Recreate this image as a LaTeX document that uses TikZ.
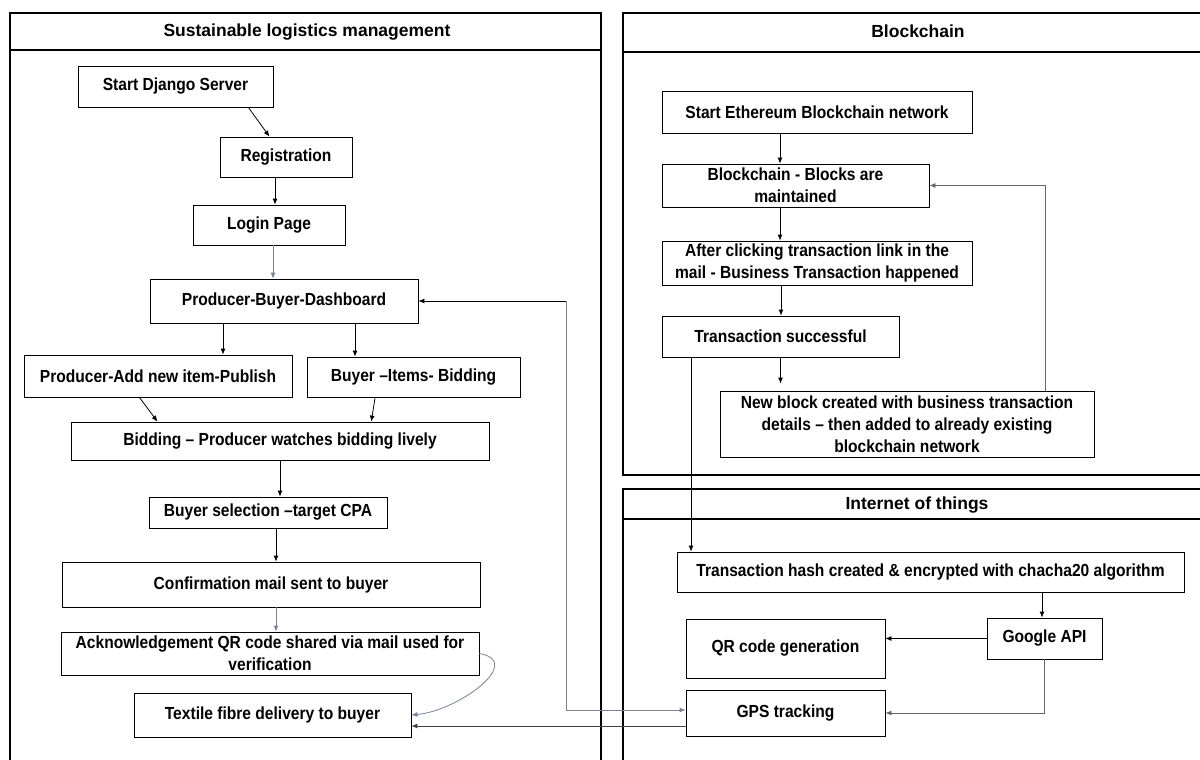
\documentclass[tikz,border=0pt]{standalone}
\usepackage{fontspec}
\setmainfont{Liberation Sans}[FakeStretch=0.89]
\newfontfamily\fonttitolo{Liberation Sans}
\usetikzlibrary{arrows.meta}

\definecolor{grigioblu}{RGB}{120,130,152}
\newcommand{\testo}{\fontsize{17.5}{22}\selectfont\bfseries}

\tikzset{
  scatola/.style={draw, line width=0.8pt, align=center, inner sep=2pt, font=\testo},
  titolo/.style={font=\fonttitolo\fontsize{17.5}{22}\selectfont\bfseries},
  pannello/.style={line width=2.6pt},
  freccia/.style={-{Latex[length=6pt,width=5pt]}, line width=0.8pt},
  grigia/.style={freccia, draw=grigioblu}
}

\begin{document}
\begin{tikzpicture}[x=1pt, y=-1pt]

        \clip (0,0) rectangle (1200,760);

        % Pannelli
        \draw[pannello] (10,13) rectangle (601,775);
        \draw[pannello] (10,50) -- (601,50);
        \draw[pannello] (623,13) rectangle (1215,475);
        \draw[pannello] (623,52) -- (1215,52);
        \draw[pannello] (623,489) rectangle (1215,775);
        \draw[pannello] (623,519) -- (1215,519);

        \node[titolo] (tlog) at (307,32) {Sustainable logistics management};
        \node[titolo] (tbc) at (918,31) {Blockchain};
        \node[titolo] (tiot) at (917,505) {Internet of things};

        % Logistica
        \node[scatola, minimum width=195, minimum height=41] (start) at (175.5,86.5) {Start Django Server};
        \node[scatola, minimum width=132, minimum height=40] (reg) at (286,157) {Registration};
        \node[scatola, minimum width=152, minimum height=40] (login) at (269,225) {Login Page};
        \node[scatola, minimum width=268, minimum height=44] (dash) at (284,301) {Producer-Buyer-Dashboard};
        \node[scatola, minimum width=268, minimum height=42] (prodadd) at (158,376) {Producer-Add new item-Publish};
        \node[scatola, minimum width=213, minimum height=40] (buyer) at (413.5,377) {Buyer –Items- Bidding};
        \node[scatola, minimum width=418, minimum height=38] (bidding) at (280,441) {Bidding – Producer watches bidding lively};
        \node[scatola, minimum width=238, minimum height=31] (buysel) at (268,512.5) {Buyer selection –target CPA};
        \node[scatola, minimum width=418, minimum height=45] (confirm) at (271,584.5) {Confirmation mail sent to buyer};
        \node[scatola, minimum width=418, minimum height=43] (ack) at (270,653.5) {Acknowledgement QR code shared via mail used for\\verification};
        \node[scatola, minimum width=277, minimum height=44] (textile) at (272.5,715) {Textile fibre delivery to buyer};

        % Blockchain
        \node[scatola, minimum width=310, minimum height=42] (eth) at (817,112) {Start Ethereum Blockchain network};
        \node[scatola, minimum width=267, minimum height=43] (blocks) at (795.5,185.5) {Blockchain - Blocks are\\maintained};
        \node[scatola, minimum width=310, minimum height=44] (after) at (817,263) {After clicking transaction link in the\\mail - Business Transaction happened};
        \node[scatola, minimum width=237, minimum height=41] (success) at (780.5,336.5) {Transaction successful};
        \node[scatola, minimum width=374, minimum height=66] (newblock) at (907,424) {New block created with business transaction\\details – then added to already existing\\blockchain network};

        % Internet of things
        \node[scatola, minimum width=507, minimum height=40] (hash) at (930.5,572) {Transaction hash created \& encrypted with chacha20 algorithm};
        \node[scatola, minimum width=115, minimum height=41] (google) at (1044.5,638.5) {Google API};
        \node[scatola, minimum width=199, minimum height=59] (qr) at (785.5,648.5) {QR code generation};
        \node[scatola, minimum width=199, minimum height=46] (gps) at (785.5,713) {GPS tracking};

        \coordinate (gomito) at (566,301);

        % Frecce logistica
        \draw[freccia] (start.-16) -- (reg.129);
        \draw[freccia] ([xshift=-11pt]reg.south) -- ([xshift=-11pt]reg.south |- login.north);
        \draw[grigia] ([xshift=4pt]login.south) -- ([xshift=4pt]login.south |- dash.north);
        \draw[freccia] ([xshift=-61pt]dash.south) -- ([xshift=-61pt]dash.south |- prodadd.north);
        \draw[freccia] ([xshift=71pt]dash.south) -- ([xshift=71pt]dash.south |- buyer.north);
        \draw[freccia] (prodadd.-131) -- (bidding.171);
        \draw[freccia] (buyer.-152) -- (bidding.12.5);
        \draw[freccia] (bidding.south) -- (bidding.south |- buysel.north);
        \draw[freccia] ([xshift=8pt]buysel.south) -- ([xshift=8pt]buysel.south |- confirm.north);
        \draw[grigia] ([xshift=5pt]confirm.south) -- ([xshift=5pt]confirm.south |- ack.north);
        \draw[grigia] (ack.east) to[out=-10, in=5, looseness=1.3] (textile.east);
        \draw[grigia] (gomito) |- ([yshift=3pt]gps.west);
        \draw[freccia] (gomito) -- (dash.east);
        \draw[freccia, draw=black!75] ([yshift=-13pt]gps.west) -- ([yshift=-13pt]gps.west -| textile.east);

        % Frecce blockchain
        \draw[freccia] ([xshift=-37pt]eth.south) -- ([xshift=-37pt]eth.south |- blocks.north);
        \draw[freccia] ([xshift=-15.5pt]blocks.south) -- ([xshift=-15.5pt]blocks.south |- after.north);
        \draw[freccia] ([xshift=-36pt]after.south) -- ([xshift=-36pt]after.south |- success.north);
        \draw[freccia, shorten >=7pt] (success.south) -- (success.south |- newblock.north);
        \draw[freccia, draw=black!60] ([xshift=138pt]newblock.north) |- (blocks.east);
        \draw[freccia] ([xshift=-89.5pt]success.south) -- ([xshift=-89.5pt]success.south |- hash.north);

        % Frecce IoT
        \draw[freccia] ([xshift=111.5pt]hash.south) -- ([xshift=111.5pt]hash.south |- google.north);
        \draw[freccia] (google.west) -- (google.west -| qr.east);
        \draw[freccia, draw=black!60] (google.south) |- (gps.east);

        \end{tikzpicture}
\end{document}
